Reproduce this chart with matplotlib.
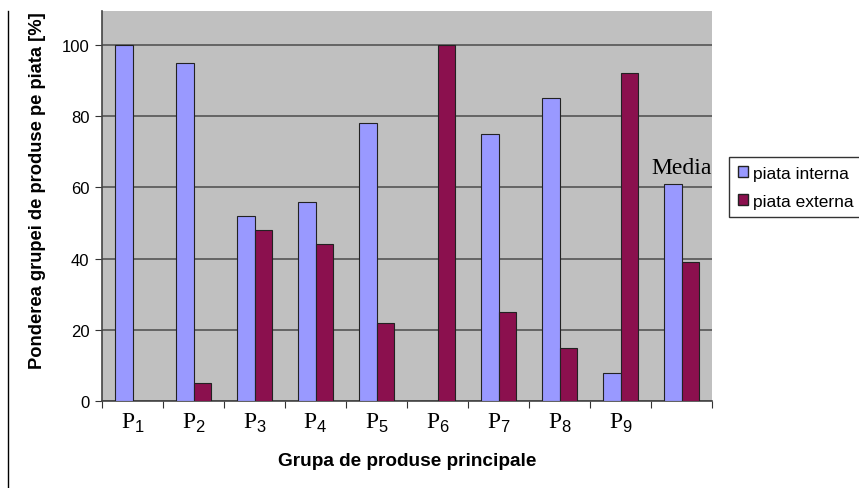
import numpy as np
import matplotlib.pyplot as plt
from matplotlib.lines import Line2D
from matplotlib.patches import Patch

plt.rcParams['font.family'] = 'Liberation Sans'
plt.rcParams['mathtext.fontset'] = 'custom'
plt.rcParams['mathtext.rm'] = 'Liberation Sans'

groups = ['P$_\\mathrm{1}$', 'P$_\\mathrm{2}$', 'P$_\\mathrm{3}$', 'P$_\\mathrm{4}$', 'P$_\\mathrm{5}$',
          'P$_\\mathrm{6}$', 'P$_\\mathrm{7}$', 'P$_\\mathrm{8}$', 'P$_\\mathrm{9}$', '']
interna = [100, 95, 52, 56, 78, 0, 75, 85, 8, 61]
externa = [0, 5, 48, 44, 22, 100, 25, 15, 92, 39]
series_names = ['piata interna', 'piata externa']

fig = plt.figure(figsize=(8.59, 4.89), dpi=100)
ax = fig.add_axes([102/859, 1-402/489, 610/859, 390/489])
ax.set_facecolor('#c0c0c0')

x = np.arange(len(groups))
w = 0.295
ax.bar(x - w/2, interna, w, color='#9999ff', edgecolor='#222222', linewidth=0.8, zorder=3)
ax.bar(x + w/2, externa, w, color='#8b104e', edgecolor='#222222', linewidth=0.8, zorder=3)

ax.set_xlim(-0.5, len(groups) - 0.5)
ax.set_ylim(0, 109.5)
ax.set_yticks([0, 20, 40, 60, 80, 100])
ax.yaxis.grid(True, color='#555555', linewidth=1.2, zorder=0)
ax.set_axisbelow(True)

ax.set_xticks(np.arange(len(groups) + 1) - 0.5)
ax.set_xticklabels([])
ax.set_xticks(x, minor=True)
ax.set_xticklabels(groups, minor=True, fontfamily='Liberation Serif', fontsize=17)
ax.tick_params(axis='x', which='minor', length=0, pad=7)
ax.tick_params(axis='x', which='major', length=5, color='#333333')
ax.tick_params(axis='y', length=5, color='#333333', labelsize=12, pad=4)

for s in ['top', 'right']:
    ax.spines[s].set_visible(False)
for s in ['left', 'bottom']:
    ax.spines[s].set_color('#444444')
    ax.spines[s].set_linewidth(1.2)

ax.text(9, 62.5, 'Media', ha='center', va='bottom', fontfamily='Liberation Serif', fontsize=17, zorder=4)

ax.set_xlabel('Grupa de produse principale', fontsize=13.7, fontweight='bold', labelpad=13)
ax.set_ylabel('Ponderea grupei de produse pe piata [%]', fontsize=13.2, fontweight='bold')
ax.yaxis.set_label_coords(-0.092, 0.541)

handles = [Patch(facecolor='#9999ff', edgecolor='#222222'), Patch(facecolor='#8b104e', edgecolor='#222222')]
leg = fig.legend(handles, series_names, loc='upper left', bbox_to_anchor=(729/859, 1-158/489),
                 fontsize=12.5, frameon=True, fancybox=False, handlelength=0.6, handleheight=0.6,
                 handletextpad=0.3, borderpad=0.5, labelspacing=0.75, borderaxespad=0)
leg.get_frame().set_edgecolor('black')
leg.get_frame().set_linewidth(1.0)

fig.add_artist(Line2D([8/859, 8/859], [0, 1-12/489], color='black', linewidth=1))

fig.savefig('out.png', dpi=100)
